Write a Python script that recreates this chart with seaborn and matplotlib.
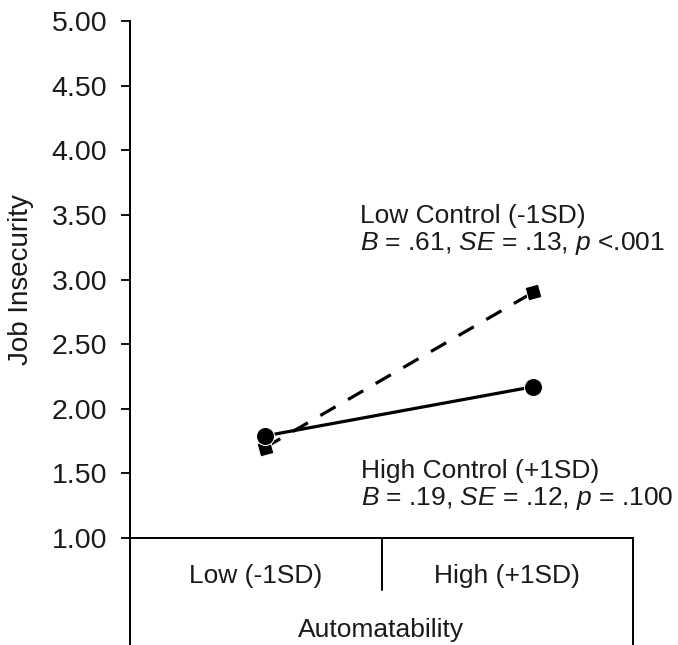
"""
Interaction plot: automatability x control on job insecurity
"""

import pandas as pd
import matplotlib.pyplot as plt
import seaborn as sns

# Data
categories = ['Low (-1SD)', 'High (+1SD)']
low_control = [1.70, 2.90]
high_control = [1.79, 2.17]
group_names = ['Low Control (-1SD)', 'High Control (+1SD)']
stats_text = [r'$B$ = .61, $SE$ = .13, $p$ <.001', r'$B$ = .19, $SE$ = .12, $p$ = .100']
y_ticks = [1.00, 1.50, 2.00, 2.50, 3.00, 3.50, 4.00, 4.50, 5.00]

df = pd.DataFrame({
    'x': list(range(len(categories))) * 2,
    'JobInsecurity': low_control + high_control,
    'Control': [group_names[0]] * 2 + [group_names[1]] * 2,
})

sns.set_style("white")
plt.rcParams['font.family'] = ['Liberation Sans', 'DejaVu Sans']
plt.rcParams['mathtext.fontset'] = 'custom'
plt.rcParams['mathtext.it'] = 'Liberation Sans:italic'
plt.rcParams['mathtext.rm'] = 'Liberation Sans'

TXT = '#1a1a1a'
W, H = 678, 645
fig = plt.figure(figsize=(W / 100, H / 100), dpi=100)
ax = fig.add_axes([130 / W, (H - 538) / H, (633 - 130) / W, (538 - 21) / H])

sns.lineplot(data=df, x='x', y='JobInsecurity', hue='Control', style='Control',
             palette={group_names[0]: 'black', group_names[1]: 'black'},
             dashes={group_names[0]: (5.5, 4.5), group_names[1]: ''},
             markers={group_names[0]: 's', group_names[1]: 'o'},
             linewidth=2.3, legend=False, ax=ax)
# marker shapes / sizes like the Excel original
for line in ax.get_lines():
    if line.get_marker() == 'o':
        line.set_markersize(13)
    else:
        line.set_marker((4, 0, 60))
        line.set_markersize(14)

# place points like the original
ax.set_xlim(-0.504, 1.373)
ax.set_ylim(1.0, 5.0)
ax.set_yticks(y_ticks)
ax.set_yticklabels([f'{v:.2f}' for v in y_ticks], fontsize=20.5, color=TXT)
ax.set_xticks([])
ax.set_xlabel('')
ax.set_ylabel('Job Insecurity', fontsize=20, color=TXT)
ax.yaxis.set_label_coords(-0.19, 0.5)
ax.tick_params(axis='y', direction='out', length=6.5, width=1.3, left=True, pad=10,
               color='black')

for side in ['top', 'right']:
    ax.spines[side].set_visible(False)
for side in ['left', 'bottom']:
    ax.spines[side].set_color('black')
    ax.spines[side].set_linewidth(1.4)

# Category table under the x axis
def px_to_axes(px, py):
    return (px - 130) / 503, (538 - py) / 517

kw = dict(transform=ax.transAxes, clip_on=False, color='black', linewidth=1.4)
bottom = px_to_axes(0, 650)[1]
mid = px_to_axes(0, 590)[1]
ax.plot([0, 0], [0, bottom], **kw)
ax.plot([0.5, 0.5], [0, mid], **kw)
ax.plot([1, 1], [0, bottom], **kw)

for i, cat in enumerate(categories):
    ax.text(0.25 + 0.5 * i, px_to_axes(0, 583)[1], cat, transform=ax.transAxes,
            ha='center', va='baseline', fontsize=19, color=TXT)
ax.text(0.5, px_to_axes(0, 637)[1], 'Automatability', transform=ax.transAxes,
        ha='center', va='baseline', fontsize=19, color=TXT)

# Slope annotations
label_pos = [(360, 223, 250), (361, 478, 505)]
for name, stat, (px, py1, py2) in zip(group_names, stats_text, label_pos):
    tx, ty = px_to_axes(px, py1)
    ax.text(tx, ty, name, transform=ax.transAxes, ha='left', va='baseline',
            fontsize=19, color=TXT)
    tx, ty = px_to_axes(px, py2)
    ax.text(tx, ty, stat, transform=ax.transAxes, ha='left', va='baseline',
            fontsize=19, color=TXT)

plt.savefig('out.png', dpi=100)
